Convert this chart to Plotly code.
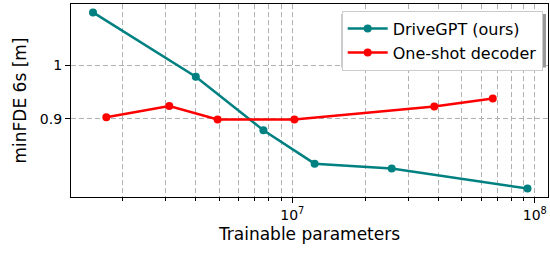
import plotly.graph_objects as go

drivegpt_params = [1.507e6, 4.0e6, 7.6e6, 1.236e7, 2.57e7, 9.33e7]
drivegpt_fde = [1.110, 0.978, 0.880, 0.824, 0.816, 0.7845]

oneshot_params = [1.71e6, 3.11e6, 4.92e6, 1.02e7, 3.85e7, 6.71e7]
oneshot_fde = [0.903, 0.923, 0.899, 0.899, 0.922, 0.937]

x_major = [1e7, 1e8]
x_major_text = ["10<sup>7</sup>", "10<sup>8</sup>"]
x_minor = [2e6, 3e6, 4e6, 5e6, 6e6, 7e6, 8e6, 9e6,
           2e7, 3e7, 4e7, 5e7, 6e7, 7e7, 8e7, 9e7]
y_ticks = [0.9, 1.0]
y_text = ["0.9", "1"]

TEAL = "#008080"
RED = "#ff0000"
GRID = "#b0b0b0"

fig = go.Figure()
fig.add_trace(go.Scatter(x=drivegpt_params, y=drivegpt_fde, mode="lines+markers",
                         name="DriveGPT (ours)",
                         line=dict(color=TEAL, width=2.5),
                         marker=dict(color=TEAL, size=8)))
fig.add_trace(go.Scatter(x=oneshot_params, y=oneshot_fde, mode="lines+markers",
                         name="One-shot decoder",
                         line=dict(color=RED, width=2.5),
                         marker=dict(color=RED, size=8)))

W, H = 550, 254
ml, mr, mt, mb = 71, 2, 4, 57
pw, ph = W - ml - mr, H - mt - mb

def px_to_paper(x, y):
    return (x - ml) / pw, (H - mb - y) / ph

# legend shadow
x0, y0 = px_to_paper(341.5, 67.5)
x1, y1 = px_to_paper(546, 14)
fig.add_shape(type="rect", xref="paper", yref="paper", x0=x0, y0=y0, x1=x1, y1=y1,
              fillcolor="#999999", line=dict(width=0), layer="above")

lx, ly = px_to_paper(542.7, 10.7)

fig.update_layout(
    width=W, height=H,
    margin=dict(l=ml, r=mr, t=mt, b=mb, autoexpand=False),
    paper_bgcolor="white", plot_bgcolor="white",
    font=dict(family="DejaVu Sans", size=14, color="black"),
    showlegend=True,
    legend=dict(x=lx, y=ly, xanchor="right", yanchor="top",
                bgcolor="white", bordercolor="#cccccc", borderwidth=1,
                font=dict(size=16), tracegroupgap=0, itemwidth=40),
    xaxis=dict(type="log", range=[6.0874, 8.0544], automargin=False,
               tickmode="array", tickvals=x_major, ticktext=x_major_text,
               ticks="outside", ticklen=5, tickwidth=1, tickcolor="black",
               showgrid=True, gridcolor=GRID, griddash="5px,3px", gridwidth=1,
               showline=True, linecolor="black", linewidth=1.3, mirror=True,
               zeroline=False,
               title=dict(text="Trainable parameters", standoff=6),
               minor=dict(tickmode="array", tickvals=x_minor, ticks="outside",
                          ticklen=3, tickcolor="black", showgrid=True,
                          gridcolor=GRID, griddash="5px,3px", gridwidth=1)),
    yaxis=dict(type="log", range=[-0.1126, 0.0525], automargin=False,
               tickmode="array", tickvals=y_ticks, ticktext=y_text,
               ticks="outside", ticklen=5, tickwidth=1, tickcolor="black",
               showgrid=True, gridcolor=GRID, griddash="5px,3px", gridwidth=1,
               showline=True, linecolor="black", linewidth=1.3, mirror=True,
               zeroline=False,
               title=dict(text="minFDE 6s [m]", standoff=8)),
)

fig.write_html("out.html", config={"displayModeBar": False},
               post_script="document.body.style.margin='0px';document.body.style.overflow='hidden';")
